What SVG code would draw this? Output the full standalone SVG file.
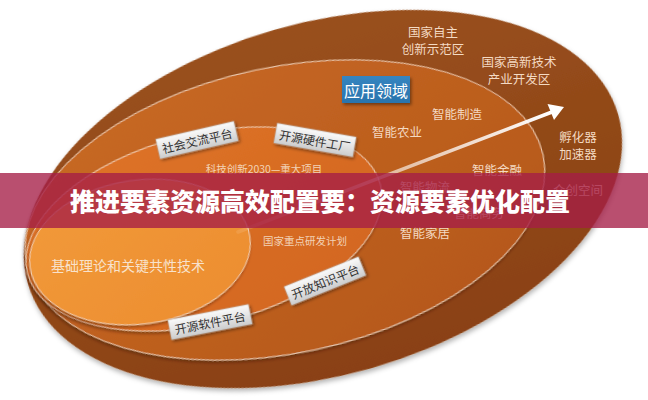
<svg xmlns="http://www.w3.org/2000/svg" width="648" height="400" viewBox="0 0 648 400">
  <defs>
    <style>
      .t { font-family: "Noto Sans CJK SC", "Noto Sans", sans-serif; text-anchor: middle; dominant-baseline: central; }
      .zone-text { fill: #f4dac3; font-size: 12.5px; }
      .small-text { fill: #f2d2b6; font-size: 10.5px; }
      .tag-text { fill: #333333; font-size: 12px; }
      .rim { stroke: #f6dcc2; stroke-width: 1; stroke-opacity: 0.9; }
      .tag { fill: url(#tagGrad); stroke: #b8b8b8; stroke-width: 0.6; filter: url(#tagShadow); }
    </style>
    <linearGradient id="outerGrad" x1="0" y1="0" x2="0" y2="1">
      <stop offset="0" stop-color="#99501e"/>
      <stop offset="1" stop-color="#8a4112"/>
    </linearGradient>
    <linearGradient id="appGrad" x1="0" y1="0" x2="1" y2="1">
      <stop offset="0" stop-color="#c96a24"/>
      <stop offset="1" stop-color="#b3561a"/>
    </linearGradient>
    <linearGradient id="projGrad" x1="0" y1="0" x2="1" y2="1">
      <stop offset="0" stop-color="#df7428"/>
      <stop offset="1" stop-color="#d2661f"/>
    </linearGradient>
    <linearGradient id="basicGrad" x1="0" y1="0" x2="1" y2="1">
      <stop offset="0" stop-color="#f29a3a"/>
      <stop offset="1" stop-color="#ec8d30"/>
    </linearGradient>
    <linearGradient id="tagGrad" x1="0" y1="0" x2="0" y2="1">
      <stop offset="0" stop-color="#fbfbfb"/>
      <stop offset="1" stop-color="#cdcdcd"/>
    </linearGradient>
    <linearGradient id="blueGrad" x1="0" y1="0" x2="0" y2="1">
      <stop offset="0" stop-color="#3585c0"/>
      <stop offset="1" stop-color="#2a74ad"/>
    </linearGradient>
    <linearGradient id="arrowGrad" gradientUnits="userSpaceOnUse" x1="238" y1="232" x2="551" y2="112">
      <stop offset="0" stop-color="#ffffff" stop-opacity="0.1"/>
      <stop offset="0.45" stop-color="#ffffff" stop-opacity="0.55"/>
      <stop offset="1" stop-color="#ffffff" stop-opacity="1"/>
    </linearGradient>
    <filter id="outerShadow" x="-10%" y="-10%" width="120%" height="125%">
      <feDropShadow dx="0" dy="3" stdDeviation="2.5" flood-color="#000000" flood-opacity="0.3"/>
    </filter>
    <filter id="ringShadow" x="-10%" y="-10%" width="120%" height="125%">
      <feDropShadow dx="-1" dy="2" stdDeviation="1.5" flood-color="#3a1400" flood-opacity="0.45"/>
    </filter>
    <filter id="tagShadow" x="-20%" y="-40%" width="140%" height="190%">
      <feDropShadow dx="1.5" dy="2" stdDeviation="1.5" flood-color="#000000" flood-opacity="0.4"/>
    </filter>
  </defs>

  <rect width="648" height="400" fill="#ffffff"/>

  <g id="zone-innovation-areas">
    <ellipse cx="323" cy="199" rx="307" ry="176" transform="rotate(-16 323 199)" fill="url(#outerGrad)" filter="url(#outerShadow)"/>
    <text class="t zone-text" x="433" y="31">国家自主</text>
    <text class="t zone-text" x="433" y="48">创新示范区</text>
    <text class="t zone-text" x="519" y="61">国家高新技术</text>
    <text class="t zone-text" x="519" y="78">产业开发区</text>
    <text class="t zone-text" x="578" y="136">孵化器</text>
    <text class="t zone-text" x="578" y="153">加速器</text>
    <text class="t zone-text" x="578" y="189">众创空间</text>
  </g>

  <g id="zone-application">
    <ellipse class="rim" cx="285" cy="210" rx="264" ry="143" transform="rotate(-12 285 210)" fill="url(#appGrad)" filter="url(#ringShadow)"/>
    <rect x="342" y="76" width="68" height="27" fill="url(#blueGrad)" filter="url(#tagShadow)"/>
    <text class="t" x="376" y="89.5" fill="#ffffff" font-size="16">应用领域</text>
    <text class="t zone-text" x="457" y="113">智能制造</text>
    <text class="t zone-text" x="397" y="131">智能农业</text>
    <text class="t zone-text" x="497" y="169">智能金融</text>
    <text class="t zone-text" x="425" y="186">智能物流</text>
    <text class="t zone-text" x="479" y="212">智能商务</text>
    <text class="t zone-text" x="425" y="232">智能家居</text>
  </g>

  <g id="zone-major-projects">
    <ellipse class="rim" cx="204" cy="229" rx="182" ry="95" transform="rotate(-14 204 229)" fill="url(#projGrad)" filter="url(#ringShadow)"/>
    <text class="t small-text" x="264" y="168" font-size="11">科技创新2030—重大项目</text>
    <text class="t small-text" x="155" y="217">新一代人工智能重大科技项目</text>
    <text class="t small-text" x="305" y="240">国家重点研发计划</text>
  </g>

  <g id="zone-basic-research">
    <ellipse class="rim" cx="140" cy="252" rx="111" ry="72" transform="rotate(-8 140 252)" fill="url(#basicGrad)" filter="url(#ringShadow)"/>
    <text class="t" x="128" y="265" fill="#f8e2cc" font-size="14">基础理论和关键共性技术</text>
  </g>

  <g id="platform-social">
    <g transform="translate(197 140) rotate(-13)">
      <rect class="tag" x="-40" y="-10" width="80" height="20"/>
      <text class="t tag-text" x="0" y="0">社会交流平台</text>
    </g>
  </g>
  <g id="platform-hardware">
    <g transform="translate(315 140) rotate(10)">
      <rect class="tag" x="-40" y="-10" width="80" height="20"/>
      <text class="t tag-text" x="0" y="0">开源硬件工厂</text>
    </g>
  </g>
  <g id="platform-knowledge">
    <g transform="translate(325 281) rotate(-22)">
      <rect class="tag" x="-40" y="-10" width="80" height="20"/>
      <text class="t tag-text" x="0" y="0">开放知识平台</text>
    </g>
  </g>
  <g id="platform-software">
    <g transform="translate(210 322) rotate(-11)">
      <rect class="tag" x="-41" y="-10" width="82" height="20"/>
      <text class="t tag-text" x="0" y="0">开源软件平台</text>
    </g>
  </g>

  <g id="connectors">
    <line x1="238" y1="232" x2="552" y2="112" stroke="url(#arrowGrad)" stroke-width="3.5" stroke-linecap="round"/>
    <polygon points="564,107 547.5,104 554,120" fill="#ffffff"/>
  </g>

  <g id="banner">
    <rect x="0" y="173" width="648" height="55" fill="#a51e46" fill-opacity="0.78"/>
    <text class="t" x="320" y="200" fill="#ffffff" font-size="25" font-weight="900">推进要素资源高效配置要：资源要素优化配置</text>
  </g>
</svg>
